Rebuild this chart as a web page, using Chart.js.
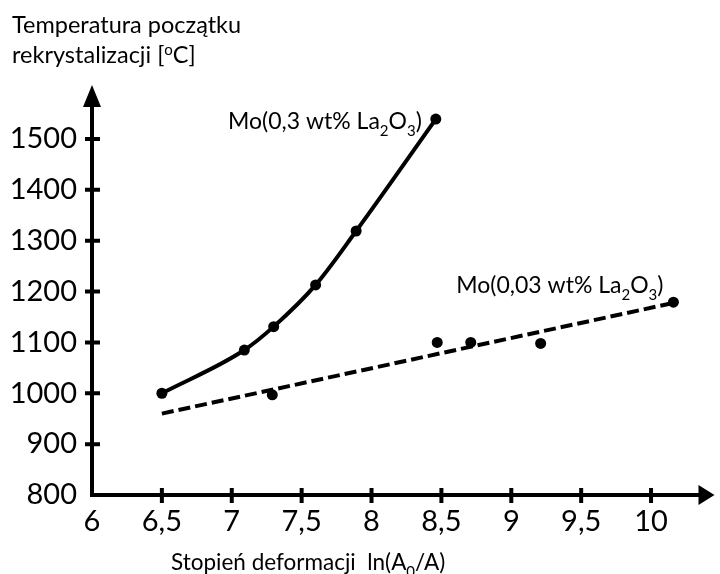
<!DOCTYPE html>
<html>
<head>
<meta charset="utf-8">
<script src="https://cdn.jsdelivr.net/npm/chart.js@4.4.0/dist/chart.umd.min.js"></script>
<style>
  html, body { margin: 0; padding: 0; background: #fff; }
  #wrap { width: 720px; height: 574px; position: relative; }
</style>
</head>
<body>
<div id="wrap"><canvas id="c" width="720" height="574"></canvas></div>
<script>
// ---- data ----
const xTicks = [6, 6.5, 7, 7.5, 8, 8.5, 9, 9.5, 10];
const yTicks = [800, 900, 1000, 1100, 1200, 1300, 1400, 1500];

// Mo (0,3 wt% La2O3)
const highLaX = [6.5, 7.09, 7.3, 7.6, 7.89, 8.46];
const highLaY = [1000, 1085, 1131, 1213, 1319, 1539];

// Mo (0,03 wt% La2O3)
const lowLaX = [7.29, 8.47, 8.71, 9.21, 10.16];
const lowLaY = [997, 1100, 1100, 1098, 1179];

// dashed trend line for Mo (0,03 wt% La2O3)
const trendX = [6.5, 10.15];
const trendY = [960, 1177];

const FONT = 'Lato, "Open Sans", sans-serif';

function pts(xs, ys) { return xs.map((x, i) => ({ x: x, y: ys[i] })); }

function drawRich(ctx, parts, x, y, size, align) {
  const fontFor = m => (m ? Math.round(size * 0.65) : size) + 'px ' + FONT;
  let total = 0;
  parts.forEach(([t, m]) => { ctx.font = fontFor(m); total += ctx.measureText(t).width; });
  let cx = align === 'right' ? x - total : (align === 'center' ? x - total / 2 : x);
  ctx.textAlign = 'left';
  ctx.textBaseline = 'alphabetic';
  parts.forEach(([t, m]) => {
    ctx.font = fontFor(m);
    const dy = m === 1 ? size * 0.3 : (m === 2 ? -size * 0.36 : 0);
    ctx.fillText(t, cx, y + dy);
    cx += ctx.measureText(t).width;
  });
}

const axisPlugin = {
  id: 'axisArrows',
  beforeDatasetsDraw(chart) {
    const ctx = chart.ctx;
    const xs = chart.scales.x, ys = chart.scales.y;
    const x0 = xs.getPixelForValue(6);
    const y0 = ys.getPixelForValue(800);
    const top = chart.chartArea.top;
    const right = chart.chartArea.right;
    ctx.save();
    ctx.strokeStyle = '#000';
    ctx.fillStyle = '#000';
    ctx.lineWidth = 4;
    ctx.lineCap = 'butt';
    // axis lines
    ctx.beginPath();
    ctx.moveTo(x0, y0 + 2);
    ctx.lineTo(x0, top + 20);
    ctx.moveTo(x0 - 2, y0);
    ctx.lineTo(right - 14, y0);
    ctx.stroke();
    // arrow heads
    ctx.beginPath();
    ctx.moveTo(x0, top);
    ctx.lineTo(x0 - 9, top + 22);
    ctx.lineTo(x0 + 9, top + 22);
    ctx.closePath();
    ctx.fill();
    ctx.beginPath();
    ctx.moveTo(right, y0);
    ctx.lineTo(right - 16, y0 - 10);
    ctx.lineTo(right - 16, y0 + 10);
    ctx.closePath();
    ctx.fill();
    // tick marks
    ctx.beginPath();
    yTicks.filter(v => v > 800).forEach(v => {
      const p = ys.getPixelForValue(v);
      ctx.moveTo(x0 - 7, p);
      ctx.lineTo(x0 + 8, p);
    });
    xTicks.filter(v => v > 6).forEach(v => {
      const p = xs.getPixelForValue(v);
      ctx.moveTo(p, y0 - 7);
      ctx.lineTo(p, y0 + 8);
    });
    ctx.stroke();
    ctx.restore();
  },
  afterDraw(chart) {
    const ctx = chart.ctx;
    const xs = chart.scales.x, ys = chart.scales.y;
    ctx.save();
    ctx.fillStyle = '#000';
    // y axis title (top-left)
    drawRich(ctx, [['Temperatura początku', 0]], 12, 33, 23.5, 'left');
    drawRich(ctx, [['rekrystalizacji [', 0], ['o', 2], ['C]', 0]], 12, 63, 23.5, 'left');
    // x axis title
    drawRich(ctx, [['Stopień deformacji  ln(A', 0], ['0', 1], ['/A)', 0]], 171, 570, 22.5, 'left');
    // series labels anchored to their last points
    const hx = xs.getPixelForValue(highLaX[highLaX.length - 1]);
    const hy = ys.getPixelForValue(highLaY[highLaY.length - 1]);
    drawRich(ctx, [['Mo(0,3 wt% La', 0], ['2', 1], ['O', 0], ['3', 1], [')', 0]], hx - 14, hy + 10, 23, 'right');
    const lx = xs.getPixelForValue(lowLaX[lowLaX.length - 1]);
    const ly = ys.getPixelForValue(lowLaY[lowLaY.length - 1]);
    drawRich(ctx, [['Mo(0,03 wt% La', 0], ['2', 1], ['O', 0], ['3', 1], [')', 0]], lx - 10, ly - 9, 23, 'right');
    ctx.restore();
  }
};

const bgPlugin = {
  id: 'bg',
  beforeDraw(chart) {
    const ctx = chart.ctx;
    ctx.save();
    ctx.fillStyle = '#fff';
    ctx.fillRect(0, 0, chart.width, chart.height);
    ctx.restore();
  }
};

new Chart(document.getElementById('c').getContext('2d'), {
  type: 'scatter',
  data: {
    datasets: [
      {
        label: 'Mo(0,3 wt% La2O3)',
        data: pts(highLaX, highLaY),
        showLine: true,
        borderColor: '#000',
        backgroundColor: '#000',
        borderWidth: 4,
        pointRadius: 5.5,
        pointBorderWidth: 0,
        pointBackgroundColor: '#000',
        cubicInterpolationMode: 'monotone',
        clip: false
      },
      {
        label: 'Mo(0,03 wt% La2O3)',
        data: pts(lowLaX, lowLaY),
        showLine: false,
        borderColor: '#000',
        backgroundColor: '#000',
        pointRadius: 5.5,
        pointBorderWidth: 0,
        pointBackgroundColor: '#000',
        clip: false
      },
      {
        label: 'trend',
        data: pts(trendX, trendY),
        showLine: true,
        borderColor: '#000',
        borderWidth: 4,
        borderDash: [12, 5],
        pointRadius: 0,
        clip: false
      }
    ]
  },
  options: {
    responsive: false,
    animation: false,
    devicePixelRatio: 1,
    layout: { padding: { top: 85, left: 0, right: 0, bottom: 0 } },
    plugins: { legend: { display: false }, tooltip: { enabled: false }, title: { display: false } },
    scales: {
      x: {
        type: 'linear',
        min: 6,
        max: 10.454,
        grid: { display: false, drawTicks: false },
        border: { display: false },
        afterBuildTicks: s => { s.ticks = xTicks.map(v => ({ value: v })); },
        afterFit: s => { s.height = 79; },
        ticks: {
          padding: 9,
          autoSkip: false,
          maxRotation: 0,
          color: '#000',
          font: { family: FONT, size: 29 },
          callback: v => String(v).replace('.', ',')
        }
      },
      y: {
        type: 'linear',
        min: 800,
        max: 1606,
        grid: { display: false, drawTicks: false },
        border: { display: false },
        afterBuildTicks: s => { s.ticks = yTicks.map(v => ({ value: v })); },
        afterFit: s => { s.width = 92; },
        ticks: {
          padding: 15,
          autoSkip: false,
          color: '#000',
          font: { family: FONT, size: 29 },
          callback: v => String(v)
        }
      }
    }
  },
  plugins: [bgPlugin, axisPlugin]
});
</script>
</body>
</html>
